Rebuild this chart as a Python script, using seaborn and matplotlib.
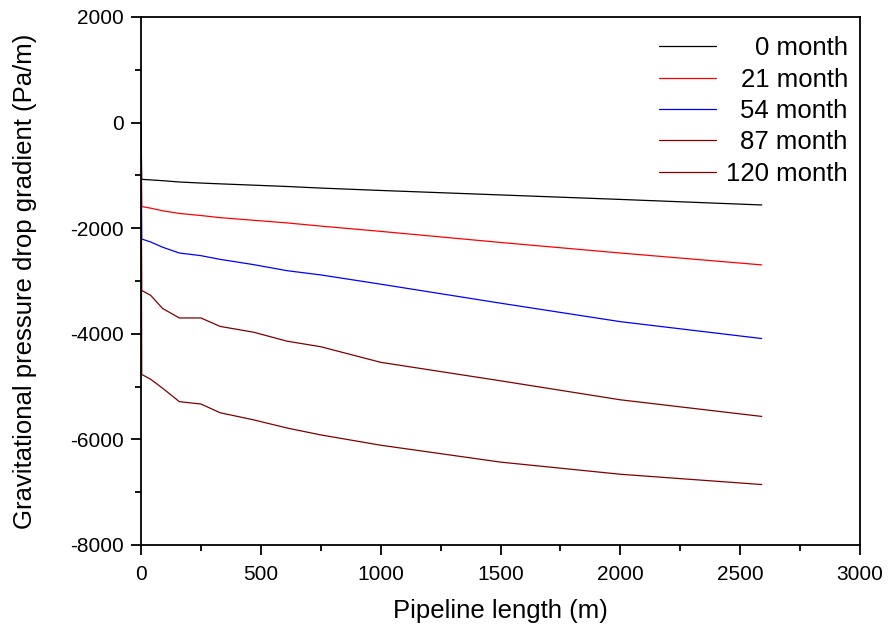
import numpy as np
import pandas as pd
import matplotlib
matplotlib.use("Agg")
import matplotlib.pyplot as plt
import seaborn as sns
from matplotlib.ticker import MultipleLocator

# Data
length_m = [0, 3, 40, 90, 160, 250, 330, 470, 610, 750, 1000, 1500, 2000, 2590]
grad_0 = [0, -1075, -1085, -1100, -1125, -1145, -1160, -1185, -1210, -1240, -1285, -1370, -1455, -1560]
grad_21 = [0, -1590, -1620, -1670, -1720, -1760, -1800, -1850, -1900, -1960, -2060, -2270, -2470, -2695]
grad_54 = [0, -2205, -2260, -2360, -2470, -2520, -2590, -2690, -2805, -2885, -3060, -3420, -3770, -4090]
grad_87 = [0, -3180, -3270, -3520, -3700, -3700, -3860, -3970, -4140, -4245, -4540, -4890, -5250, -5565]
grad_120 = [0, -4770, -4860, -5030, -5285, -5330, -5495, -5630, -5785, -5915, -6110, -6430, -6660, -6855]
series_labels = ["0 month", "21 month", "54 month", "87 month", "120 month"]
series_values = [grad_0, grad_21, grad_54, grad_87, grad_120]
colors = ["#000000", "#ff0000", "#0000ff", "#800000", "#800000"]

rows = []
for lab, vals in zip(series_labels, series_values):
    for x, y in zip(length_m, vals):
        rows.append({"Pipeline length (m)": x, "grad": y, "series": lab})
df = pd.DataFrame(rows)

sns.set_style("ticks", {"axes.edgecolor": "black", "text.color": "black",
                        "xtick.color": "black", "ytick.color": "black",
                        "axes.labelcolor": "black"})
plt.rcParams["font.family"] = ["Liberation Sans", "DejaVu Sans"]
plt.rcParams["axes.unicode_minus"] = False

fig = plt.figure(figsize=(8.88, 6.33), dpi=100)
ax = fig.add_axes([141 / 888, 1 - 545 / 633, (860 - 141) / 888, (545 - 17) / 633])

sns.lineplot(data=df, x="Pipeline length (m)", y="grad", hue="series",
             hue_order=series_labels, palette=colors, linewidth=0.9,
             sort=False, estimator=None, ax=ax)

ax.set_xlim(0, 3000)
ax.set_ylim(-8000, 2000)
ax.xaxis.set_major_locator(MultipleLocator(500))
ax.xaxis.set_minor_locator(MultipleLocator(250))
ax.yaxis.set_major_locator(MultipleLocator(2000))
ax.yaxis.set_minor_locator(MultipleLocator(1000))
ax.tick_params(which="major", direction="out", length=7.5, width=1.3, labelsize=15,
               pad=5, top=False, right=False, colors="black")
ax.tick_params(axis="x", which="major", pad=7)
ax.tick_params(which="minor", direction="out", length=4.2, width=1.3, top=False,
               right=False, colors="black")
for s in ax.spines.values():
    s.set_linewidth(1.3)
    s.set_color("black")
    s.set_visible(True)

ax.set_xlabel("Pipeline length (m)", fontsize=18.5, labelpad=11, color="black")
ax.set_ylabel("Gravitational pressure drop gradient (Pa/m)", fontsize=18.5, labelpad=24,
              color="black")

leg = ax.legend(loc="upper right", bbox_to_anchor=(1.0045, 0.993), frameon=False,
                fontsize=18.5, handlelength=2.2, handletextpad=0.4,
                labelspacing=0.29, borderaxespad=0.2)
for h in leg.get_lines():
    h.set_linewidth(0.9)

fig.canvas.draw()
renderer = fig.canvas.get_renderer()
widths = [t.get_window_extent(renderer).width for t in leg.get_texts()]
maxw = max(widths)
for t, w in zip(leg.get_texts(), widths):
    t.set_color("black")
    t.set_position((maxw - w, 0))

fig.savefig("out.png", dpi=100)
